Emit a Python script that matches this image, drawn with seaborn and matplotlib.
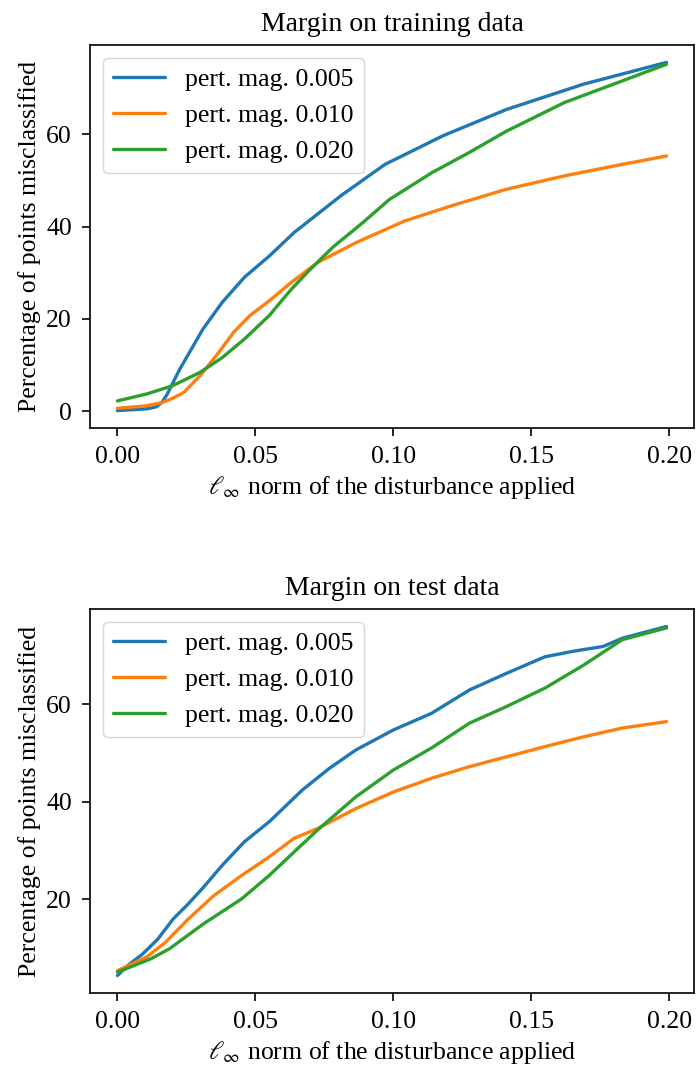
import matplotlib
matplotlib.use("Agg")
import matplotlib.pyplot as plt
import seaborn as sns
import pandas as pd

# ---------------- data ----------------
labels = ["pert. mag. 0.005", "pert. mag. 0.010", "pert. mag. 0.020"]
colors = ["#1f77b4", "#ff7f0e", "#2ca02c"]

train_x_005 = [0.0, 0.011, 0.014, 0.016, 0.018, 0.020, 0.0225, 0.0257, 0.031, 0.038, 0.046, 0.055, 0.064, 0.081, 0.097, 0.118, 0.141, 0.169, 0.199]
train_y_005 = [0.1, 0.5, 0.9, 1.8, 3.6, 6.0, 9.0, 12.3, 17.8, 23.6, 29.0, 33.6, 38.7, 46.7, 53.5, 59.7, 65.4, 70.9, 75.6]

train_x_010 = [0.0, 0.010, 0.016, 0.0194, 0.024, 0.030, 0.0367, 0.042, 0.048, 0.055, 0.063, 0.0725, 0.0864, 0.104, 0.121, 0.141, 0.162, 0.183, 0.199]
train_y_010 = [0.6, 1.1, 1.8, 2.6, 4.0, 7.7, 12.7, 17.0, 20.7, 23.9, 27.9, 32.2, 36.5, 41.2, 44.5, 48.1, 51.0, 53.5, 55.3]

train_x_020 = [0.0, 0.0106, 0.020, 0.030, 0.038, 0.046, 0.055, 0.063, 0.070, 0.078, 0.089, 0.0986, 0.114, 0.1276, 0.141, 0.162, 0.183, 0.199]
train_y_020 = [2.2, 3.7, 5.5, 8.4, 11.6, 15.6, 20.7, 26.4, 30.8, 35.5, 40.9, 45.9, 51.7, 56.1, 60.7, 66.9, 71.6, 75.2]

test_x_005 = [0.0, 0.0037, 0.0092, 0.0147, 0.0202, 0.0257, 0.0312, 0.038, 0.046, 0.055, 0.060, 0.067, 0.0767, 0.0864, 0.100, 0.1138, 0.1276, 0.141, 0.155, 0.165, 0.176, 0.183, 0.199]
test_y_005 = [4.4, 6.45, 8.85, 11.9, 16.0, 19.1, 22.5, 27.0, 31.8, 35.9, 38.6, 42.4, 46.8, 50.6, 54.7, 58.1, 62.9, 66.3, 69.7, 70.8, 71.8, 73.5, 75.9]

test_x_010 = [0.0, 0.0106, 0.0174, 0.0257, 0.035, 0.045, 0.055, 0.064, 0.0725, 0.0864, 0.100, 0.1138, 0.1276, 0.141, 0.155, 0.169, 0.183, 0.199]
test_y_010 = [5.4, 8.2, 11.2, 16.0, 20.8, 24.9, 28.7, 32.5, 34.5, 38.6, 42.0, 44.8, 47.2, 49.2, 51.3, 53.3, 55.1, 56.4]

test_x_020 = [0.0, 0.012, 0.0189, 0.0312, 0.045, 0.055, 0.064, 0.0725, 0.0864, 0.100, 0.1138, 0.1276, 0.141, 0.155, 0.169, 0.183, 0.199]
test_y_020 = [5.1, 7.8, 9.9, 15.0, 20.1, 24.9, 29.7, 34.2, 41.0, 46.5, 51.0, 56.1, 59.5, 63.3, 68.0, 73.2, 75.6]

titles = ["Margin on training data", "Margin on test data"]
xlabel = r"$\ell_\infty$ norm of the disturbance applied"
ylabel = "Percentage of points misclassified"

# ---------------- style ----------------
sns.set_style("ticks")
plt.rcParams["font.family"] = ["Liberation Serif", "DejaVu Serif"]
plt.rcParams["mathtext.fontset"] = "stix"
plt.rcParams["font.size"] = 18.5
plt.rcParams["text.color"] = "black"
plt.rcParams["axes.labelcolor"] = "black"
plt.rcParams["axes.edgecolor"] = "black"
plt.rcParams["axes.linewidth"] = 1.2
plt.rcParams["xtick.color"] = "black"
plt.rcParams["ytick.color"] = "black"
plt.rcParams["xtick.major.size"] = 6
plt.rcParams["ytick.major.size"] = 6
plt.rcParams["xtick.major.pad"] = 7
plt.rcParams["ytick.major.pad"] = 7
plt.rcParams["xtick.major.width"] = 1.2
plt.rcParams["ytick.major.width"] = 1.2
plt.rcParams["xtick.direction"] = "out"
plt.rcParams["ytick.direction"] = "out"

fig = plt.figure(figsize=(7.0, 10.67), dpi=100)
W, H = 700.0, 1067.0
ax1 = fig.add_axes([90 / W, (H - 428) / H, 604 / W, 383 / H])
ax2 = fig.add_axes([90 / W, (H - 993) / H, 604 / W, 384 / H])

datasets = [
    [(train_x_005, train_y_005), (train_x_010, train_y_010), (train_x_020, train_y_020)],
    [(test_x_005, test_y_005), (test_x_010, test_y_010), (test_x_020, test_y_020)],
]

for ax, series, title in zip([ax1, ax2], datasets, titles):
    for (xs, ys), lab, col in zip(series, labels, colors):
        df = pd.DataFrame({"x": xs, "y": ys})
        sns.lineplot(data=df, x="x", y="y", ax=ax, color=col, label=lab,
                     linewidth=2.4, estimator=None, sort=False)
    ax.set_title(title, fontsize=20, pad=10, color="black")
    ax.set_xlabel(xlabel, fontsize=18.5)
    ax.set_ylabel(ylabel, fontsize=18.5)
    ax.set_xticks([0.00, 0.05, 0.10, 0.15, 0.20])
    ax.set_xticklabels(["0.00", "0.05", "0.10", "0.15", "0.20"])
    ax.tick_params(labelsize=18.5, colors="black")
    ax.margins(x=0.05, y=0.05)
    for s in ax.spines.values():
        s.set_visible(True)
        s.set_color("black")
    leg = ax.legend(loc="upper left", fontsize=18.5, frameon=True, fancybox=True,
                    framealpha=0.8, edgecolor="#cccccc")
    for t in leg.get_texts():
        t.set_color("black")

ax1.set_yticks([0, 20, 40, 60])
ax2.set_yticks([20, 40, 60])

fig.savefig("out.png", dpi=100)
